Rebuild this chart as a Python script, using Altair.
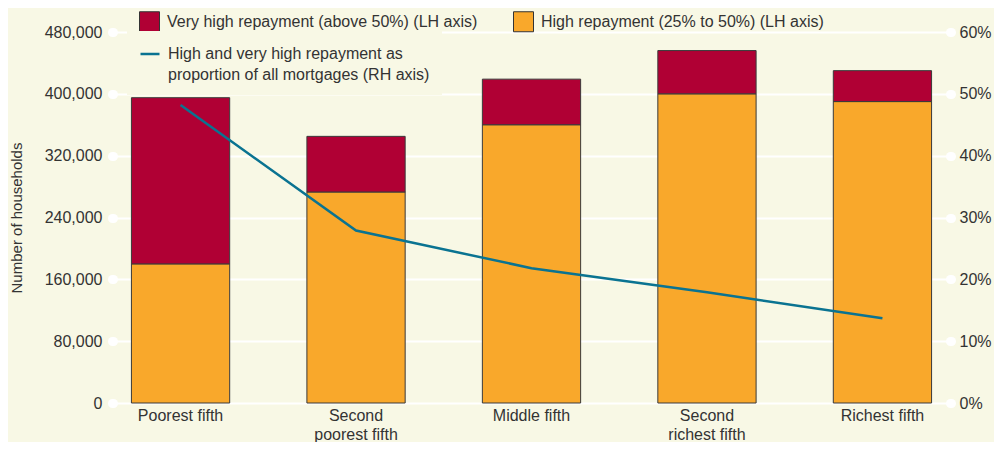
import altair as alt
import pandas as pd

categories = ["Poorest fifth", "Second poorest fifth", "Middle fifth",
              "Second richest fifth", "Richest fifth"]
very_high = [215000, 72000, 59000, 56000, 40000]
high = [180000, 273000, 360000, 400000, 390000]
share_pct = [48.2, 27.9, 21.8, 17.9, 13.7]

series_names = ["Very high repayment (above 50%) (LH axis)",
                "High repayment (25% to 50%) (LH axis)"]
line_name = "High and very high repayment as proportion of all mortgages (RH axis)"
y_ticks = [0, 80000, 160000, 240000, 320000, 400000, 480000]
pct_ticks = [0, 10, 20, 30, 40, 50, 60]

BG = "#f8f8e5"
CRIMSON = "#b00034"
ORANGE = "#f9a82b"
TEAL = "#0a7391"
TXT = "#333333"

W, H = 837, 371

rows = []
for c, vh, h in zip(categories, very_high, high):
    rows.append({"category": c, "series": series_names[1], "value": h, "stack_order": 0})
    rows.append({"category": c, "series": series_names[0], "value": vh, "stack_order": 1})
bars_df = pd.DataFrame(rows)
line_df = pd.DataFrame({"category": categories, "share": share_pct, "name": line_name})

x_enc = alt.X(
    "category:N", sort=categories,
    scale=alt.Scale(paddingInner=0.44, paddingOuter=0.105),
    axis=alt.Axis(
        title=None, domain=False, ticks=False, grid=False,
        labelExpr="indexof(datum.label, 'Second') == 0 ? ['Second', substring(datum.label, 7)] : datum.label",
        labelAngle=0, labelPadding=4, labelFontSize=16, labelColor=TXT,
        labelLineHeight=19,
    ),
)

bars = alt.Chart(bars_df).mark_bar(stroke="#3a3a3a", strokeWidth=1).encode(
    x=x_enc,
    y=alt.Y(
        "value:Q", stack="zero",
        scale=alt.Scale(domain=[0, 480000], nice=False),
        axis=alt.Axis(
            values=y_ticks, format=",.0f", title="Number of households",
            domain=False, grid=True, gridColor="white", gridWidth=2,
            ticks=True, tickColor="white", tickWidth=9, tickSize=1, tickCap="round",
            labelPadding=10, labelFontSize=16, labelColor=TXT,
            titleFontSize=15, titleFontWeight="normal", titleColor=TXT,
            titleX=-97, titleY=H / 2, titleAngle=270, titleAlign="center",
            titleBaseline="middle",
        ),
    ),
    fill=alt.Fill(
        "series:N",
        scale=alt.Scale(domain=series_names, range=[CRIMSON, ORANGE]),
        legend=alt.Legend(
            title=None, orient="none", legendX=26, legendY=-21, direction="horizontal",
            columns=2, columnPadding=33, symbolType="square", symbolSize=400,
            symbolStrokeColor="#333333", symbolStrokeWidth=1, labelOffset=7,
            labelFontSize=16, labelColor=TXT, labelLimit=450, padding=0,
        ),
    ),
    order=alt.Order("stack_order:Q"),
)

line = alt.Chart(line_df).mark_line(strokeWidth=2.5).encode(
    x=alt.X("category:N", sort=categories),
    y=alt.Y(
        "share:Q",
        scale=alt.Scale(domain=[0, 60], nice=False),
        axis=alt.Axis(
            orient="right", values=pct_ticks, labelExpr="datum.value + '%'",
            title=None, grid=False, domain=False,
            ticks=True, tickColor="white", tickWidth=9, tickSize=1, tickCap="round",
            labelPadding=8, labelFontSize=16, labelColor=TXT,
        ),
    ),
    stroke=alt.Stroke(
        "name:N",
        scale=alt.Scale(domain=[line_name], range=[TEAL]),
        legend=alt.Legend(
            title=None, orient="none", legendX=14, legendY=-1,
            symbolType="stroke", symbolSize=361, symbolStrokeWidth=2.5,
            labelOffset=7, labelFontSize=16, labelColor=TXT, labelLimit=450,
            labelExpr="[substring(datum.label, 0, 31), substring(datum.label, 32)]",
            padding=12, fillColor=BG,
        ),
    ),
)

chart = alt.layer(bars, line).resolve_scale(y="independent").properties(
    width=W, height=H,
    padding={"left": 105, "top": 24, "right": 986 - 105 - W, "bottom": 434 - 24 - H},
    autosize=alt.AutoSizeParams(type="none"),
).configure(
    background=BG,
    font="Liberation Sans",
    style={"guide-label": {"lineHeight": 21}},
).configure_view(stroke=None)

chart.save("out.html", embed_options={"renderer": "svg", "actions": False})
